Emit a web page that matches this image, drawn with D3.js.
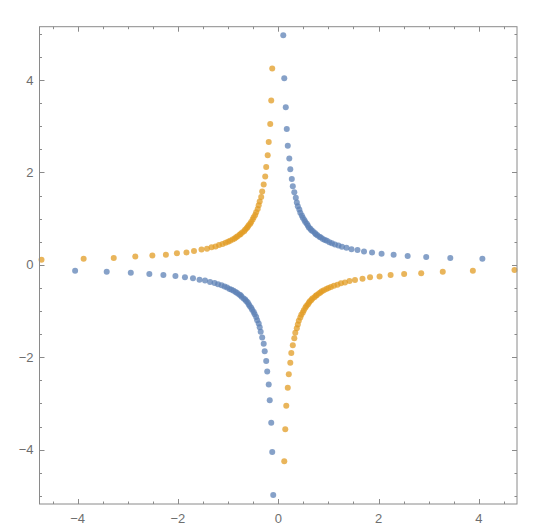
<!DOCTYPE html>
<html>
<head>
<meta charset="utf-8">
<script src="https://cdn.jsdelivr.net/npm/d3@7"></script>
<style>
  html, body { margin: 0; padding: 0; background: #fff; }
  svg text { font-family: "Liberation Sans", Arial, sans-serif; }
</style>
</head>
<body>
<svg id="chart" width="550" height="532"></svg>
<script>
// ---- data ----
const blueX = [
  4.07, 3.43, 2.95, 2.58, 2.30, 2.06, 1.87, 1.71, 1.58, 1.46, 1.36, 1.27,
  1.20, 1.13, 1.07, 1.02, 0.97, 0.93, 0.89, 0.85, 0.82, 0.78, 0.75, 0.73,
  0.69, 0.66, 0.64, 0.61, 0.59, 0.57, 0.54, 0.52, 0.49, 0.47, 0.44, 0.42,
  0.39, 0.37, 0.35, 0.32, 0.29, 0.27, 0.24, 0.22, 0.19, 0.17, 0.15, 0.12, 0.10,
  -4.05, -3.42, -2.94, -2.57, -2.29, -2.05, -1.86, -1.70, -1.57, -1.46, -1.36, -1.27,
  -1.20, -1.13, -1.07, -1.02, -0.97, -0.93, -0.89, -0.85, -0.82, -0.78, -0.75, -0.73,
  -0.69, -0.66, -0.64, -0.61, -0.59, -0.57, -0.54, -0.52, -0.49, -0.47, -0.44, -0.42,
  -0.39, -0.37, -0.35, -0.32, -0.29, -0.27, -0.24, -0.22, -0.19, -0.17, -0.14, -0.12, -0.10
];
const blueY = [
  0.13, 0.15, 0.17, 0.19, 0.22, 0.24, 0.27, 0.29, 0.32, 0.34, 0.37, 0.39,
  0.42, 0.44, 0.47, 0.49, 0.52, 0.54, 0.56, 0.59, 0.61, 0.64, 0.66, 0.69,
  0.73, 0.75, 0.78, 0.81, 0.85, 0.89, 0.93, 0.97, 1.02, 1.07, 1.13, 1.20,
  1.27, 1.35, 1.45, 1.57, 1.70, 1.86, 2.07, 2.30, 2.58, 2.94, 3.41, 4.04, 4.97,
  -0.13, -0.15, -0.17, -0.20, -0.22, -0.24, -0.27, -0.29, -0.32, -0.34, -0.37, -0.39,
  -0.42, -0.44, -0.47, -0.49, -0.52, -0.54, -0.56, -0.59, -0.61, -0.64, -0.66, -0.69,
  -0.73, -0.75, -0.78, -0.81, -0.85, -0.89, -0.93, -0.97, -1.02, -1.07, -1.13, -1.20,
  -1.27, -1.35, -1.45, -1.57, -1.71, -1.87, -2.08, -2.31, -2.59, -2.93, -3.42, -4.05, -4.98
];
const orangeX = [
  -4.72, -3.88, -3.28, -2.85, -2.51, -2.24, -2.02, -1.83, -1.68, -1.53, -1.42,
  -1.33, -1.25, -1.18, -1.11, -1.05, -1.00, -0.96, -0.91, -0.87, -0.84, -0.81, -0.77, -0.75, -0.72,
  -0.68, -0.66, -0.63, -0.61, -0.59, -0.56, -0.54, -0.51, -0.49, -0.46, -0.44, -0.41, -0.39, -0.37,
  -0.34, -0.32, -0.29, -0.26, -0.24, -0.21, -0.19, -0.16, -0.14, -0.12,
  4.71, 3.88, 3.28, 2.85, 2.51, 2.24, 2.02, 1.83, 1.68, 1.53, 1.42,
  1.33, 1.25, 1.18, 1.11, 1.05, 1.00, 0.96, 0.91, 0.87, 0.84, 0.81, 0.77, 0.75, 0.72,
  0.68, 0.66, 0.63, 0.61, 0.59, 0.56, 0.54, 0.51, 0.49, 0.46, 0.44, 0.41, 0.39, 0.37,
  0.34, 0.32, 0.29, 0.26, 0.24, 0.21, 0.19, 0.16, 0.14, 0.12
];
const orangeY = [
  0.11, 0.13, 0.15, 0.18, 0.20, 0.22, 0.25, 0.27, 0.30, 0.33, 0.35,
  0.38, 0.40, 0.43, 0.45, 0.48, 0.50, 0.52, 0.55, 0.57, 0.60, 0.62, 0.65, 0.67, 0.70,
  0.73, 0.76, 0.79, 0.82, 0.86, 0.89, 0.93, 0.98, 1.03, 1.08, 1.14, 1.21, 1.29, 1.37,
  1.47, 1.59, 1.74, 1.91, 2.12, 2.37, 2.66, 3.05, 3.56, 4.25,
  -0.11, -0.13, -0.15, -0.18, -0.20, -0.22, -0.25, -0.27, -0.30, -0.33, -0.35,
  -0.38, -0.40, -0.43, -0.45, -0.48, -0.50, -0.52, -0.55, -0.57, -0.60, -0.62, -0.65, -0.67, -0.70,
  -0.73, -0.76, -0.79, -0.82, -0.86, -0.89, -0.93, -0.98, -1.03, -1.08, -1.14, -1.21, -1.29, -1.37,
  -1.47, -1.59, -1.74, -1.91, -2.12, -2.37, -2.66, -3.05, -3.56, -4.25
];
const majorTicks = [-4, -2, 0, 2, 4];
const xMinorTicks = [-4.5, -3.5, -3, -2.5, -1.5, -1, -0.5, 0.5, 1, 1.5, 2.5, 3, 3.5, 4.5];
const yMinorTicks = [-5, -4.5, -3.5, -3, -2.5, -1.5, -1, -0.5, 0.5, 1, 1.5, 2.5, 3, 3.5, 4.5, 5];
const xDomain = [-4.76, 4.76];
const yDomain = [-5.176, 5.155];

// ---- layout ----
const plotL = 39.5, plotR = 517, plotT = 26.7, plotB = 504;
const svg = d3.select("#chart");
const x = d3.scaleLinear().domain(xDomain).range([plotL, plotR]);
const y = d3.scaleLinear().domain(yDomain).range([plotB, plotT]);

const frameColor = "#8a8a8a";
const textColor = "#6e6e6e";

// points
const blueData = blueX.map((v, i) => ({ x: v, y: blueY[i] }));
const orangeData = orangeX.map((v, i) => ({ x: v, y: orangeY[i] }));
const series = [
  { data: blueData, color: "#5E81B5" },
  { data: orangeData, color: "#E19C24" }
];
series.forEach(s => {
  svg.append("g").selectAll("circle").data(s.data).join("circle")
    .attr("cx", d => x(d.x)).attr("cy", d => y(d.y)).attr("r", 3)
    .attr("fill", s.color).attr("fill-opacity", 0.75);
});

// frame
svg.append("rect").attr("x", plotL).attr("y", plotT)
  .attr("width", plotR - plotL).attr("height", plotB - plotT)
  .attr("fill", "none").attr("stroke", frameColor).attr("stroke-width", 1);

const tickG = svg.append("g").attr("stroke", frameColor).attr("stroke-width", 1);
function xTicks(vals, len) {
  vals.forEach(v => {
    const px = Math.round(x(v)) + 0.5;
    tickG.append("line").attr("x1", px).attr("x2", px).attr("y1", plotB).attr("y2", plotB - len);
    tickG.append("line").attr("x1", px).attr("x2", px).attr("y1", plotT).attr("y2", plotT + len);
  });
}
function yTicks(vals, len) {
  vals.forEach(v => {
    const py = Math.round(y(v)) + 0.5;
    tickG.append("line").attr("y1", py).attr("y2", py).attr("x1", plotL).attr("x2", plotL + len);
    tickG.append("line").attr("y1", py).attr("y2", py).attr("x1", plotR).attr("x2", plotR - len);
  });
}
xTicks(majorTicks, 5); xTicks(xMinorTicks, 2.5);
yTicks(majorTicks, 5); yTicks(yMinorTicks, 2.5);

const fmt = v => (v < 0 ? "\u2212" + Math.abs(v) : String(v));
svg.append("g").selectAll("text").data(majorTicks).join("text")
  .attr("x", d => x(d)).attr("y", plotB + 19)
  .attr("text-anchor", "middle").attr("font-size", 13).attr("fill", textColor)
  .text(fmt);
svg.append("g").selectAll("text").data(majorTicks).join("text")
  .attr("x", plotL - 6).attr("y", d => y(d)).attr("dy", "0.35em")
  .attr("text-anchor", "end").attr("font-size", 13).attr("fill", textColor)
  .text(fmt);
</script>
</body>
</html>
